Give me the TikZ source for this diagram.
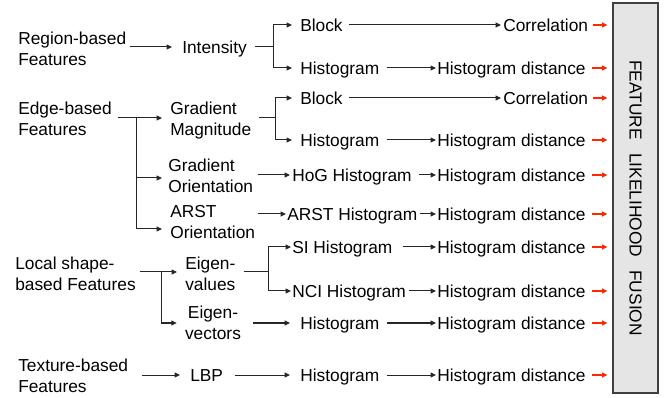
\documentclass[tikz,border=0pt]{standalone}
\usepackage{fontspec}
\setmainfont{Liberation Sans}
\usetikzlibrary{arrows.meta}
\definecolor{redarrow}{RGB}{255,40,0}
\begin{document}
\begin{tikzpicture}[x=0.75pt,y=-0.75pt,
  font=\fontsize{13pt}{15.75pt}\selectfont,
  lbl/.style={inner sep=0pt, text height=9.31pt, text depth=0pt, anchor=west},
  two/.style={inner sep=0pt, align=left, anchor=west},
  ln/.style={draw=black!85, line width=0.75pt},
  arr/.style={ln, -{Triangle[length=4pt,width=3.6pt]}},
  redarr/.style={draw=redarrow, line width=1pt, -{Triangle[length=4pt,width=3.6pt]}, shorten >=3.75pt},
  fusebox/.style={draw=black!75, fill=black!10, line width=0.9pt, minimum width=33.75pt, minimum height=292.5pt, inner sep=0pt}
]
\useasboundingbox (0,0) rectangle (666,398);

% left column
\node[two] (rb) at (18,49.2) {Region-based\\Features};
\node[two] (eb) at (18,119) {Edge-based\\Features};
\node[two] (ls) at (15,274) {Local shape-\\based Features};
\node[two] (tb) at (18,376) {Texture-based\\Features};

% second column
\node[lbl] (int) at (182,47) {Intensity};
\node[two] (gm) at (170,120.3) {Gradient\\Magnitude};
\node[two] (go) at (168,176) {Gradient\\Orientation};
\node[two] (ao) at (170,222) {ARST\\Orientation};
\node[two] (ev) at (185,274) {Eigen-\\values};
\node[inner sep=0pt, align=center] (evec) at (213,323) {Eigen-\\vectors};
\node[lbl] (lbp) at (190,375) {LBP};

% third column
\node[lbl] (blk1) at (300,25) {Block};
\node[lbl] (hist1) at (300,68) {Histogram};
\node[lbl] (blk2) at (300,98) {Block};
\node[lbl] (hist2) at (300,140) {Histogram};
\node[lbl] (hog) at (292,175) {HoG Histogram};
\node[lbl] (arsth) at (287,214) {ARST Histogram};
\node[lbl] (si) at (292,247) {SI Histogram};
\node[lbl] (nci) at (292,291) {NCI Histogram};
\node[lbl] (hist3) at (300,323) {Histogram};
\node[lbl] (hist4) at (300,375) {Histogram};

% fourth column
\node[lbl] (cor1) at (503,25) {Correlation};
\node[lbl] (hd1) at (437,68) {Histogram distance};
\node[lbl] (cor2) at (503,98) {Correlation};
\node[lbl] (hd2) at (437,140) {Histogram distance};
\node[lbl] (hd3) at (437,175) {Histogram distance};
\node[lbl] (hd4) at (437,214) {Histogram distance};
\node[lbl] (hd5) at (437,247) {Histogram distance};
\node[lbl] (hd6) at (437,291) {Histogram distance};
\node[lbl] (hd7) at (437,323) {Histogram distance};
\node[lbl] (hd8) at (437,375) {Histogram distance};

% fusion box
\node[fusebox] (fus) at (635.5,198) {\rotatebox{-90}{FEATURE\hspace{10pt}LIKELIHOOD\hspace{10pt}FUSION}};

% branch points
\coordinate (j1) at (273,47);
\coordinate (j2) at (136,118);
\coordinate (j3) at (275,118);
\coordinate (j4) at (161,272);
\coordinate (j5) at (268,272);

% region-based
\draw[arr, shorten <=2.5pt, shorten >=7.5pt] (rb.east |- int.west) -- (int.west);
\draw[ln, shorten <=5.85pt] (int.east) -- (j1);
\draw[arr, shorten >=6pt] (j1) |- (blk1.west);
\draw[arr, shorten >=6pt] (j1) |- (hist1.west);

% edge-based
\draw[arr, shorten <=4.15pt, shorten >=6pt] (eb.east |- j2) -- (j2 -| gm.west);
\draw[arr, shorten >=4.5pt] (j2) |- ([yshift=-1.5pt]go.west);
\draw[arr, shorten >=6pt] (j2) |- ([yshift=-5.25pt]ao.west);
\draw[ln, shorten <=6pt] (gm.east |- j3) -- (j3);
\draw[arr, shorten >=6pt] (j3) |- (blk2.west);
\draw[arr, shorten >=6pt] (j3) |- (hist2.west);
\draw[arr, shorten <=3.3pt, shorten >=1.5pt] (go.east |- hog.west) -- (hog.west);
\draw[arr, shorten <=1.8pt, shorten >=0.75pt] (ao.east |- arsth.west) -- (arsth.west);

% local shape-based
\draw[arr, shorten <=2.8pt, shorten >=6pt] (ls.east |- j4) -- (j4 -| ev.west);
\draw[arr, shorten >=6pt] (j4) |- (evec.west);
\draw[ln, shorten <=6pt] (ev.east |- j5) -- (j5);
\draw[arr, shorten >=0.75pt] (j5) |- (si.west);
\draw[arr, shorten >=0.75pt] (j5) |- (nci.west);
\draw[arr, shorten <=9.1pt, shorten >=7.5pt] (evec.east |- hist3.west) -- (hist3.west);

% texture-based
\draw[arr, shorten <=9.9pt, shorten >=7.5pt] (tb.east |- lbp.west) -- (lbp.west);
\draw[arr, shorten <=8.5pt, shorten >=7.5pt] (lbp.east) -- (hist4.west);

% third to fourth column
\draw[arr, shorten <=4.9pt, shorten >=1.5pt] (blk1.east) -- (cor1.west);
\draw[arr, shorten <=4.9pt, shorten >=1.5pt] (blk2.east) -- (cor2.west);
\draw[arr, shorten <=5.3pt, shorten >=0.75pt] (hist1.east) -- (hd1.west);
\draw[arr, shorten <=5.3pt, shorten >=0.75pt] (hist2.east) -- (hd2.west);
\draw[arr, shorten <=5pt, shorten >=0.75pt] (hog.east) -- (hd3.west);
\draw[arr, shorten <=1.5pt, shorten >=0.75pt] (arsth.east) -- (hd4.west);
\draw[arr, shorten <=7.6pt, shorten >=0.75pt] (si.east) -- (hd5.west);
\draw[arr, shorten <=1.75pt, shorten >=0.75pt] (nci.east) -- (hd6.west);
\draw[arr, shorten <=5.3pt, shorten >=0.75pt] (hist3.east) -- (hd7.west);
\draw[arr, shorten <=5.3pt, shorten >=0.75pt] (hist4.east) -- (hd8.west);

% red arrows into fusion box
\foreach \n/\s in {cor1/3.2pt, hd1/4.9pt, cor2/3.2pt, hd2/4.9pt, hd3/4.9pt, hd4/4.9pt, hd5/4.9pt, hd6/4.9pt, hd7/4.9pt, hd8/4.9pt}
  \draw[redarr, shorten <=\s] (\n.east) -- (\n.east -| fus.west);
\end{tikzpicture}
\end{document}
